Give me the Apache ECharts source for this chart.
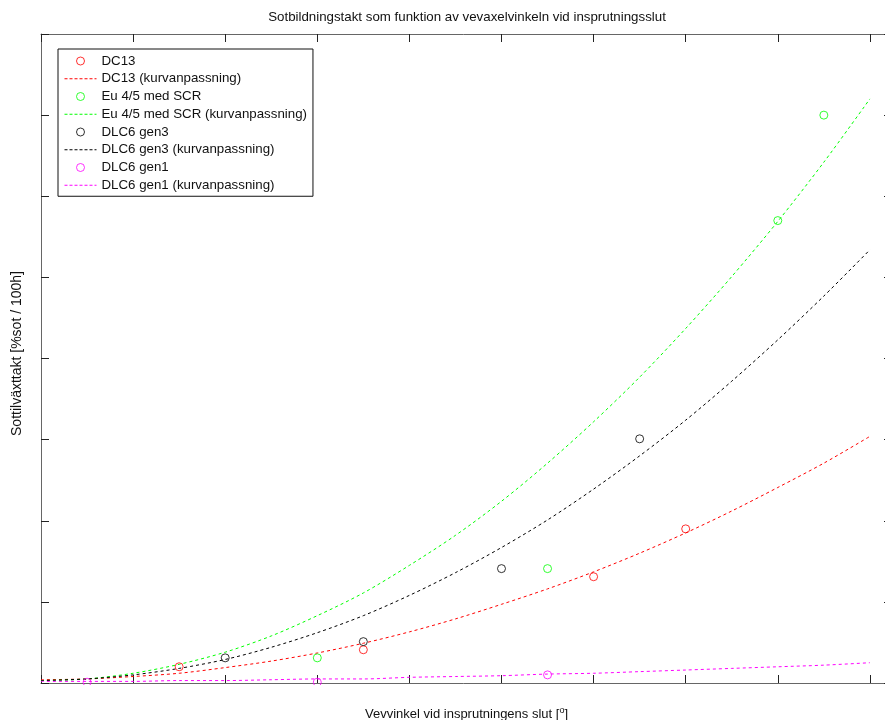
<!DOCTYPE html>
<html>
<head>
<meta charset="utf-8">
<script src="https://cdn.jsdelivr.net/npm/echarts@6/dist/echarts.min.js"></script>
<style>html,body{margin:0;padding:0;background:#fff;}#c{width:885px;height:720px;}</style>
</head>
<body>
<div id="c"></div>
<script>
// ---- data ----
const titleText = 'Sotbildningstakt som funktion av vevaxelvinkeln vid insprutningsslut';
const xName = 'Vevvinkel vid insprutningens slut';
const yName = 'Sottilväxttakt [%sot / 100h]';

const dc13X = [1.5, 3.5, 6, 7];
const dc13Y = [0.20, 0.41, 1.31, 1.90];
const euX = [3, 5.5, 8, 8.5];
const euY = [0.31, 1.41, 5.70, 7.00];
const gen3X = [2, 3.5, 5, 6.5];
const gen3Y = [0.31, 0.51, 1.41, 3.01];
const gen1X = [0.5, 3, 5.5];
const gen1Y = [0.01, 0.01, 0.10];

// fitted curves
const fitX = [0, 0.5, 1, 1.5, 2, 2.5, 3, 3.5, 4, 4.5, 5, 5.5, 6, 6.5, 7, 7.5, 8, 8.5, 9];
const dc13Fit = [0.04, 0.05, 0.08, 0.12, 0.19, 0.27, 0.37, 0.49, 0.63, 0.79, 0.97, 1.16, 1.37, 1.60, 1.85, 2.12, 2.41, 2.71, 3.04];
const euFit   = [0.03, 0.05, 0.12, 0.23, 0.38, 0.58, 0.83, 1.11, 1.45, 1.82, 2.24, 2.71, 3.22, 3.77, 4.37, 5.01, 5.69, 6.42, 7.20];
const gen3Fit = [0.03, 0.05, 0.10, 0.18, 0.29, 0.44, 0.62, 0.83, 1.08, 1.36, 1.67, 2.01, 2.39, 2.80, 3.24, 3.72, 4.23, 4.77, 5.34];
const gen1Fit = [0.02, 0.02, 0.02, 0.03, 0.03, 0.04, 0.05, 0.05, 0.07, 0.08, 0.09, 0.11, 0.12, 0.14, 0.16, 0.18, 0.20, 0.22, 0.25];

const names = ['DC13', 'Eu 4/5 med SCR', 'DLC6 gen3', 'DLC6 gen1'];
const colors = ['#ff0000', '#00ff00', '#000000', '#ff00ff'];

function pairs(xs, ys) { return xs.map((x, i) => [x, ys[i]]); }

const pts = [pairs(dc13X, dc13Y), pairs(euX, euY), pairs(gen3X, gen3Y), pairs(gen1X, gen1Y)];
const fits = [pairs(fitX, dc13Fit), pairs(fitX, euFit), pairs(fitX, gen3Fit), pairs(fitX, gen1Fit)];

const series = [];
const legendData = [];
names.forEach((n, i) => {
  series.push({
    name: n, type: 'scatter', data: pts[i], symbol: 'circle', symbolSize: 8, z: 3,
    itemStyle: { color: 'rgba(255,255,255,0)', borderColor: colors[i], borderWidth: 1 }
  });
  const fn = n + ' (kurvanpassning)';
  series.push({
    name: fn, type: 'line', data: fits[i], symbol: 'none', showSymbol: false, smooth: 0.3, z: 2,
    lineStyle: { color: colors[i], width: 1, type: [3, 3] }, itemStyle: { color: colors[i] }
  });
  legendData.push({ name: n, itemStyle: { color: 'rgba(255,255,255,0)', borderColor: colors[i], borderWidth: 1 } });
  legendData.push({ name: fn, itemStyle: { color: 'rgba(0,0,0,0)', borderWidth: 0, opacity: 0 },
                    lineStyle: { color: colors[i], width: 1, type: [3, 2] } });
});

const FONT = 'Liberation Sans, Arial, sans-serif';
const axisLine = { show: true, onZero: false, lineStyle: { color: '#666', width: 1 } };
const axisTick = { show: true, inside: true, length: 8, lineStyle: { color: '#222', width: 1 } };

const chart = echarts.init(document.getElementById('c'), null, { renderer: 'canvas' });
chart.setOption({
  animation: false,
  backgroundColor: '#fff',
  title: {
    text: titleText, left: 467, top: 11, textAlign: 'center', padding: 0,
    textStyle: { fontFamily: FONT, fontSize: 13.3, fontWeight: 'normal', color: '#111' }
  },
  grid: { left: 41, top: 34, right: -7, bottom: 37, containLabel: false, outerBoundsMode: 'none' },
  legend: {
    data: legendData, orient: 'vertical', left: 58, top: 49,
    padding: [5, 6, 4, 6], itemWidth: 32, itemHeight: 8, itemGap: 3.75,
    backgroundColor: '#fff', borderColor: '#111', borderWidth: 1,
    textStyle: { fontFamily: FONT, fontSize: 13.3, lineHeight: 14, color: '#111' },
    selectedMode: false
  },
  xAxis: [
    {
      type: 'value', min: 0, max: 9.24, interval: 1, position: 'bottom',
      name: xName + ' [{s|o}]', nameLocation: 'middle', nameGap: 23,
      nameTextStyle: { fontFamily: FONT, fontSize: 13, color: '#111',
        rich: { s: { fontFamily: FONT, fontSize: 9, color: '#111', padding: [0, 0, 8, 0] } } },
      axisLine: axisLine, axisTick: axisTick, axisLabel: { show: false }, splitLine: { show: false }
    },
    {
      type: 'value', min: 0, max: 9.24, interval: 1, position: 'top',
      axisLine: axisLine, axisTick: axisTick, axisLabel: { show: false }, splitLine: { show: false }
    }
  ],
  yAxis: [
    {
      type: 'value', min: 0, max: 8, interval: 1, position: 'left',
      name: yName, nameLocation: 'middle', nameGap: 17, nameRotate: 90,
      nameTextStyle: { fontFamily: FONT, fontSize: 14, color: '#111', padding: [0, 0, 0, 10] },
      axisLine: axisLine, axisTick: axisTick, axisLabel: { show: false }, splitLine: { show: false }
    },
    {
      type: 'value', min: 0, max: 8, interval: 1, position: 'right',
      axisLine: axisLine, axisTick: axisTick, axisLabel: { show: false }, splitLine: { show: false }
    }
  ],
  graphic: [
    { type: 'rect', left: 0, top: 685, shape: { width: 885, height: 12 }, style: { fill: '#fff' }, z: 100, silent: true }
  ],
  series: series
});
</script>
</body>
</html>
